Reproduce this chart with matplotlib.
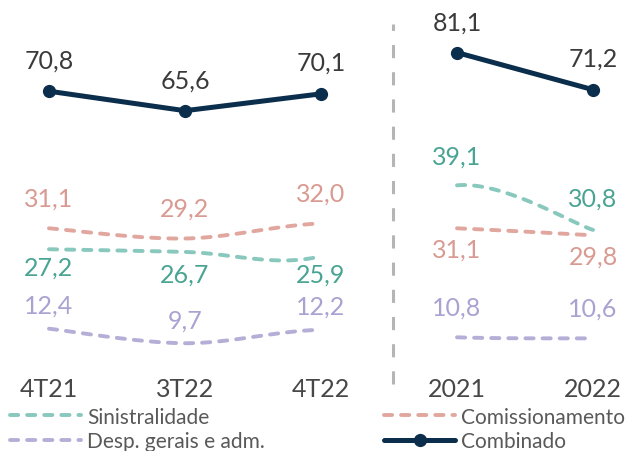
import numpy as np
import matplotlib
matplotlib.use("Agg")
import matplotlib.pyplot as plt
import matplotlib.transforms as mtransforms

plt.rcParams['font.family'] = ['Lato', 'DejaVu Sans']

# dados
periodos = ['4T21', '3T22', '4T22', '2021', '2022']
sinistralidade = [27.2, 26.7, 25.9, 39.1, 30.8]
comissionamento = [31.1, 29.2, 32.0, 31.1, 29.8]
despesas = [12.4, 9.7, 12.2, 10.8, 10.6]
combinado = [70.8, 65.6, 70.1, 81.1, 71.2]

# estilo
c_sin, c_sin_txt = '#88c8bd', '#4aa493'
c_com, c_com_txt = '#e1a79f', '#d99a91'
c_desp, c_desp_txt = '#b6aed7', '#aaa2d1'
c_comb, c_comb_txt = '#0b2e4c', '#3a3a3a'
# deslocamento dos rotulos (px, linha de base em relacao ao ponto)
off_sin = [-25, -30, -25, 22, 24]
off_com = [23, 23, 23, -28, -28]
off_desp = [16, 16, 16, 23, 23]
off_comb = [24, 23, 24, 23, 24]


def fmt(v):
    return f"{v:.1f}".replace('.', ',')


def suave(xs, ys, i0, i1, n=40):
    P = np.column_stack([xs, ys]).astype(float)
    m = len(P)
    t = np.linspace(0, 1, n)[:, None]
    out = []
    for i in range(i0, i1):
        p0, p1, p2, p3 = P[max(i - 1, 0)], P[i], P[i + 1], P[min(i + 2, m - 1)]
        c1 = p1 + (p2 - p0) / 6
        c2 = p2 - (p3 - p1) / 6
        seg = (1 - t) ** 3 * p1 + 3 * (1 - t) ** 2 * t * c1 + 3 * (1 - t) * t ** 2 * c2 + t ** 3 * p2
        out.append(seg if not out else seg[1:])
    return np.vstack(out)


x = np.arange(len(periodos))

fig = plt.figure(figsize=(6.36, 4.52), dpi=100)
ax = fig.add_axes([0, 0, 1, 1])
ax2 = ax.twinx()
ax.set_xlim(-0.36, 4.316)
ax.set_ylim(-25.15, 95.39)
ax2.set_ylim(-10.37, 73.8)
ax.set_axis_off()
ax2.set_axis_off()

handles = {}
for nome, vals, cor, ctxt, offs in [('Sinistralidade', sinistralidade, c_sin, c_sin_txt, off_sin),
                                    ('Comissionamento', comissionamento, c_com, c_com_txt, off_com),
                                    ('Desp. gerais e adm.', despesas, c_desp, c_desp_txt, off_desp)]:
    for k, (i0, i1) in enumerate([(0, 2), (3, 4)]):
        c = suave(x, vals, i0, i1)
        ln, = ax2.plot(c[:, 0], c[:, 1], color=cor, lw=2.8, dashes=(2.1, 2.3),
                       dash_capstyle='round', label=nome)
        if k == 0:
            handles[nome] = ln
    for xi, v, o in zip(x, vals, offs):
        ax2.annotate(fmt(v), (xi, v), xytext=(0, o * 0.72), textcoords='offset points',
                     ha='center', va='baseline', fontsize=18, color=ctxt)

for k, sl in enumerate([slice(0, 3), slice(3, 5)]):
    ln, = ax.plot(x[sl], combinado[sl], color=c_comb, lw=3.6, marker='o', ms=8.5,
                  solid_capstyle='round', label='Combinado')
    if k == 0:
        handles['Combinado'] = ln
for xi, v, o in zip(x, combinado, off_comb):
    ax.annotate(fmt(v), (xi, v), xytext=(0, o * 0.72), textcoords='offset points',
                ha='center', va='baseline', fontsize=18, color=c_comb_txt)

trans = mtransforms.blended_transform_factory(ax.transData, ax.transAxes)
for xi, p in zip(x, periodos):
    ax.text(xi, 0.1217, p, transform=trans, ha='center', va='baseline',
            fontsize=18, color='#474747')

ax.axvline(2.527, ymin=0.148, ymax=0.945, color='#b5b5b5', lw=2.2, dashes=(4.3, 4.6))

kw = dict(frameon=False, handlelength=3.4, handletextpad=0.3,
          labelspacing=0.2, borderpad=0, borderaxespad=0, loc='upper left',
          bbox_transform=fig.transFigure, labelcolor='#595959',
          prop={'size': 15})
leg1 = ax2.legend(handles=[handles['Sinistralidade'], handles['Desp. gerais e adm.']],
                  bbox_to_anchor=(0.0157, 0.098), **kw)
ax2.add_artist(leg1)
leg2 = ax2.legend(handles=[handles['Comissionamento'], handles['Combinado']],
                  bbox_to_anchor=(0.604, 0.098), **kw)

fig.savefig('out.png', dpi=100)
